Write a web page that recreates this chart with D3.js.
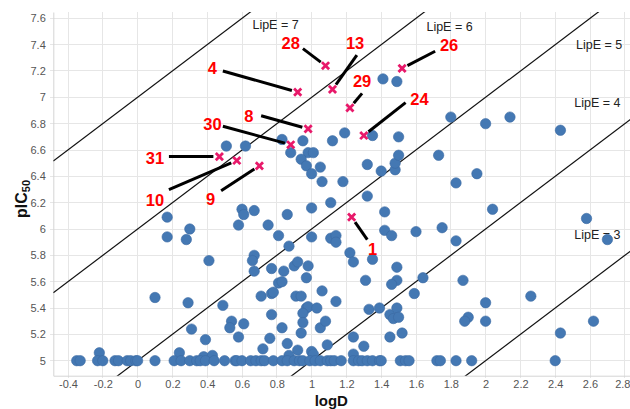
<!DOCTYPE html>
<html>
<head>
<meta charset="utf-8">
<script src="https://cdn.jsdelivr.net/npm/d3@7"></script>
<style>
  body { margin: 0; background: #fff; }
  svg { display: block; font-family: "Liberation Sans", Arial, sans-serif; }
</style>
</head>
<body>
<svg id="chart" width="630" height="409"></svg>
<script>
// ---- data ----
const xTicks = [-0.4, -0.2, 0, 0.2, 0.4, 0.6, 0.8, 1, 1.2, 1.4, 1.6, 1.8, 2, 2.2, 2.4, 2.6, 2.8];
const yTicks = [5, 5.2, 5.4, 5.6, 5.8, 6, 6.2, 6.4, 6.6, 6.8, 7, 7.2, 7.4, 7.6];

// compounds above the assay floor: [logD, pIC50]
const activePoints = [
  [1.41, 7.14], [1.49, 7.12], [1.19, 6.73], [1.12, 6.67], [0.95, 6.67], [0.83, 6.68],
  [0.62, 6.63], [0.51, 6.63], [0.88, 6.58], [0.98, 6.58], [1.01, 6.58], [0.94, 6.53],
  [0.97, 6.48], [1.05, 6.47], [1.00, 6.42], [1.06, 6.36], [1.18, 6.36], [1.32, 6.49],
  [1.40, 6.44], [1.48, 6.45], [1.48, 6.50], [1.50, 6.56], [1.50, 6.70], [1.35, 6.71],
  [1.32, 6.25], [1.11, 6.20], [1.00, 6.16], [0.60, 6.15], [0.67, 6.14],
  [1.80, 6.85], [2.00, 6.80], [2.14, 6.85], [2.43, 6.75], [1.73, 6.56], [1.95, 6.42],
  [1.83, 6.35], [2.04, 6.15],
  [0.17, 6.09], [0.17, 5.94], [0.30, 6.00], [0.28, 5.92], [0.41, 5.76], [0.10, 5.48],
  [0.29, 5.44], [0.31, 5.24], [0.39, 5.16], [0.24, 5.06], [-0.22, 5.06], [0.38, 5.03],
  [0.49, 5.42],
  [0.61, 6.11], [0.86, 6.11], [0.58, 6.03], [0.75, 6.03], [0.81, 5.95], [1.00, 5.94],
  [1.11, 5.93], [1.14, 5.95], [1.14, 5.90], [0.87, 5.87], [1.42, 6.13], [1.42, 5.99],
  [1.46, 5.95], [1.60, 5.98], [1.22, 5.82], [1.24, 5.75], [1.35, 5.77], [0.67, 5.80],
  [0.66, 5.76], [0.67, 5.68], [0.77, 5.70], [0.84, 5.68], [0.90, 5.72], [0.92, 5.75],
  [0.98, 5.72], [0.97, 5.63], [0.81, 5.59], [0.83, 5.60], [0.77, 5.51], [0.78, 5.52],
  [0.71, 5.49], [0.91, 5.49], [0.94, 5.49], [1.06, 5.53], [1.14, 5.45], [1.31, 5.61],
  [1.49, 5.71], [1.49, 5.61], [1.46, 5.58], [1.59, 5.51], [0.97, 5.40], [0.98, 5.41],
  [0.95, 5.36], [1.03, 5.40], [0.95, 5.29], [1.05, 5.25], [1.08, 5.30], [0.77, 5.35],
  [0.54, 5.30], [0.53, 5.25], [0.61, 5.28], [0.58, 5.18], [0.83, 5.25], [0.94, 5.21],
  [0.76, 5.17], [0.86, 5.13], [0.72, 5.09], [0.92, 5.08], [1.00, 5.07], [1.09, 5.12],
  [1.24, 5.18], [1.30, 5.11], [1.33, 5.39], [1.39, 5.40], [1.45, 5.35], [1.47, 5.32],
  [1.49, 5.40], [1.50, 5.33], [1.45, 5.18], [1.52, 5.21], [1.24, 5.05], [0.87, 5.04],
  [0.43, 5.04], [1.01, 5.05],
  [2.58, 6.08], [2.70, 5.92], [1.75, 6.01], [1.83, 5.91], [1.64, 5.63], [1.87, 5.61],
  [2.00, 5.44], [2.26, 5.49], [1.90, 5.33], [1.88, 5.30], [2.00, 5.30], [2.43, 5.21],
  [2.62, 5.30]
];

// compounds sitting on the floor value
const floorPIC50 = 5;
const floorLogD = [
  -0.35, -0.33, -0.23, -0.20, -0.13, -0.11, -0.06, -0.04, -0.01, 0.00, 0.10, 0.21,
  0.25, 0.30, 0.34, 0.36, 0.39, 0.44, 0.50, 0.56, 0.57, 0.60, 0.65, 0.68, 0.71, 0.73,
  0.78, 0.83, 0.86, 0.90, 0.93, 0.95, 0.99, 1.02, 1.05, 1.09, 1.11, 1.13, 1.17, 1.24,
  1.27, 1.29, 1.32, 1.35, 1.39, 1.40, 1.51, 1.54, 1.56, 1.72, 1.74, 1.83, 1.92, 2.40
];

// highlighted compounds
const hitIds   = ['28', '4', '13', '29', '8', '30', '31', '10', '9', '24', '26', '1'];
const hitLogD  = [1.08, 0.92, 1.12, 1.22, 0.98, 0.88, 0.47, 0.57, 0.70, 1.30, 1.52, 1.23];
const hitPIC50 = [7.24, 7.04, 7.06, 6.92, 6.76, 6.64, 6.55, 6.52, 6.48, 6.71, 7.22, 6.09];
// where each number label sits, and where its pointer starts (data units)
const labelLogD  = [0.88, 0.43, 1.25, 1.29, 0.64, 0.43, 0.10, 0.10, 0.42, 1.62, 1.79, 1.35];
const labelPIC50 = [7.41, 7.22, 7.41, 7.12, 6.86, 6.80, 6.54, 6.22, 6.23, 6.99, 7.40, 5.85];
const leadLogD   = [0.95, 0.49, 1.26, 1.29, 0.71, 0.49, 0.18, 0.18, 0.48, 1.54, 1.71, 1.32];
const leadPIC50  = [7.37, 7.20, 7.32, 7.03, 6.86, 6.78, 6.55, 6.30, 6.29, 6.96, 7.35, 5.92];

// LipE = pIC50 - logD reference lines
const lipeValues = [7, 6, 5, 4, 3];
const lipeLabelLogD  = [0.66, 1.66, 2.52, 2.51, 2.51];
const lipeLabelPIC50 = [7.55, 7.54, 7.40, 6.96, 5.96];

// ---- layout ----
const svg = d3.select('#chart');
const plotLeft = 53.3, plotRight = 631, plotTop = 12, plotBottom = 375.7;
const xMin = -0.4845, xMax = 2.8356;

const x = d3.scaleLinear().domain([xMin, xMax]).range([plotLeft, plotRight]);
const y = d3.scaleLinear().domain([4.886, 7.648]).range([plotBottom, plotTop]);

const gridColor = '#e6e6e6';

svg.append('defs').append('clipPath').attr('id', 'plot-clip')
  .append('rect')
  .attr('x', plotLeft).attr('y', plotTop)
  .attr('width', plotRight - plotLeft).attr('height', plotBottom - plotTop);

// grid
const grid = svg.append('g');
grid.selectAll('.vg').data(xTicks).enter().append('line')
  .attr('x1', d => x(d)).attr('x2', d => x(d))
  .attr('y1', plotTop).attr('y2', plotBottom + 2)
  .attr('stroke', gridColor).attr('shape-rendering', 'crispEdges');
grid.selectAll('.hg').data(yTicks).enter().append('line')
  .attr('x1', plotLeft - 3).attr('x2', plotRight)
  .attr('y1', d => y(d)).attr('y2', d => y(d))
  .attr('stroke', gridColor).attr('shape-rendering', 'crispEdges');

// axes
const xAxis = svg.append('g')
  .attr('transform', 'translate(0,' + plotBottom + ')')
  .call(d3.axisBottom(x).tickValues(xTicks).tickSize(0).tickPadding(5)
    .tickFormat(d => String(+d.toFixed(1))));
const yAxis = svg.append('g')
  .attr('transform', 'translate(' + plotLeft + ',0)')
  .call(d3.axisLeft(y).tickValues(yTicks).tickSize(0).tickPadding(7.5)
    .tickFormat(d => String(+d.toFixed(1))));
[xAxis, yAxis].forEach(a => {
  a.select('.domain').attr('stroke', '#d4d4d4');
  a.selectAll('text').attr('fill', '#555').style('font-size', '11px');
});
// last x label is nudged in so it stays inside the frame
xAxis.selectAll('.tick text').filter(d => d === 2.8).attr('dx', -2.5);

// LipE lines
const lipeGroup = svg.append('g').attr('clip-path', 'url(#plot-clip)');
lipeGroup.selectAll('line').data(lipeValues).enter().append('line')
  .attr('x1', d => x(xMin)).attr('y1', d => y(xMin + d))
  .attr('x2', d => x(xMax)).attr('y2', d => y(xMax + d))
  .attr('stroke', '#111').attr('stroke-width', 1.2);

svg.append('g').selectAll('text').data(lipeValues).enter().append('text')
  .attr('x', (d, i) => x(lipeLabelLogD[i]))
  .attr('y', (d, i) => y(lipeLabelPIC50[i]))
  .attr('dy', '0.35em')
  .attr('fill', '#222')
  .style('font-size', '12.5px')
  .text(d => 'LipE = ' + d);

// blue compounds
const dots = activePoints.concat(floorLogD.map(v => [v, floorPIC50]));
svg.append('g').selectAll('circle').data(dots).enter().append('circle')
  .attr('cx', d => x(d[0])).attr('cy', d => y(d[1]))
  .attr('r', 5.2)
  .attr('fill', '#4478b3')
  .attr('stroke', '#3b6aa2').attr('stroke-width', 0.6);

// pointer lines
const hits = hitIds.map((id, i) => ({
  id, lx: labelLogD[i], ly: labelPIC50[i],
  sx: leadLogD[i], sy: leadPIC50[i], mx: hitLogD[i], my: hitPIC50[i]
}));
svg.append('g').selectAll('line').data(hits).enter().append('line')
  .each(function (d) {
    const x1 = x(d.sx), y1 = y(d.sy), x2 = x(d.mx), y2 = y(d.my);
    const len = Math.hypot(x2 - x1, y2 - y1), gap = 6;
    d3.select(this)
      .attr('x1', x1).attr('y1', y1)
      .attr('x2', x2 - (x2 - x1) / len * gap)
      .attr('y2', y2 - (y2 - y1) / len * gap);
  })
  .attr('stroke', '#000').attr('stroke-width', 3);

// pink crosses
const s = 3.6;
svg.append('g').selectAll('path').data(hits).enter().append('path')
  .attr('d', d => {
    const cx = x(d.mx), cy = y(d.my);
    return 'M' + (cx - s) + ',' + (cy - s) + 'L' + (cx + s) + ',' + (cy + s) +
      'M' + (cx - s) + ',' + (cy + s) + 'L' + (cx + s) + ',' + (cy - s);
  })
  .attr('stroke', '#e8196a').attr('stroke-width', 2.8).attr('fill', 'none');

// number labels
svg.append('g').selectAll('text').data(hits).enter().append('text')
  .attr('x', d => x(d.lx)).attr('y', d => y(d.ly))
  .attr('dy', '0.36em')
  .attr('text-anchor', 'middle')
  .attr('fill', '#ff0000')
  .style('font-size', '16.5px').style('font-weight', 'bold')
  .text(d => d.id);

// axis titles
svg.append('text')
  .attr('x', 331.3).attr('y', 405.5)
  .attr('text-anchor', 'middle')
  .style('font-size', '15px').style('font-weight', 'bold')
  .attr('fill', '#111')
  .text('logD');

const yt = svg.append('text')
  .attr('transform', 'translate(26.5,199) rotate(-90)')
  .attr('text-anchor', 'middle')
  .style('font-size', '16px').style('font-weight', 'bold')
  .attr('fill', '#111');
yt.append('tspan').text('pIC');
yt.append('tspan').attr('dy', 3).style('font-size', '11px').text('50');
</script>
</body>
</html>
